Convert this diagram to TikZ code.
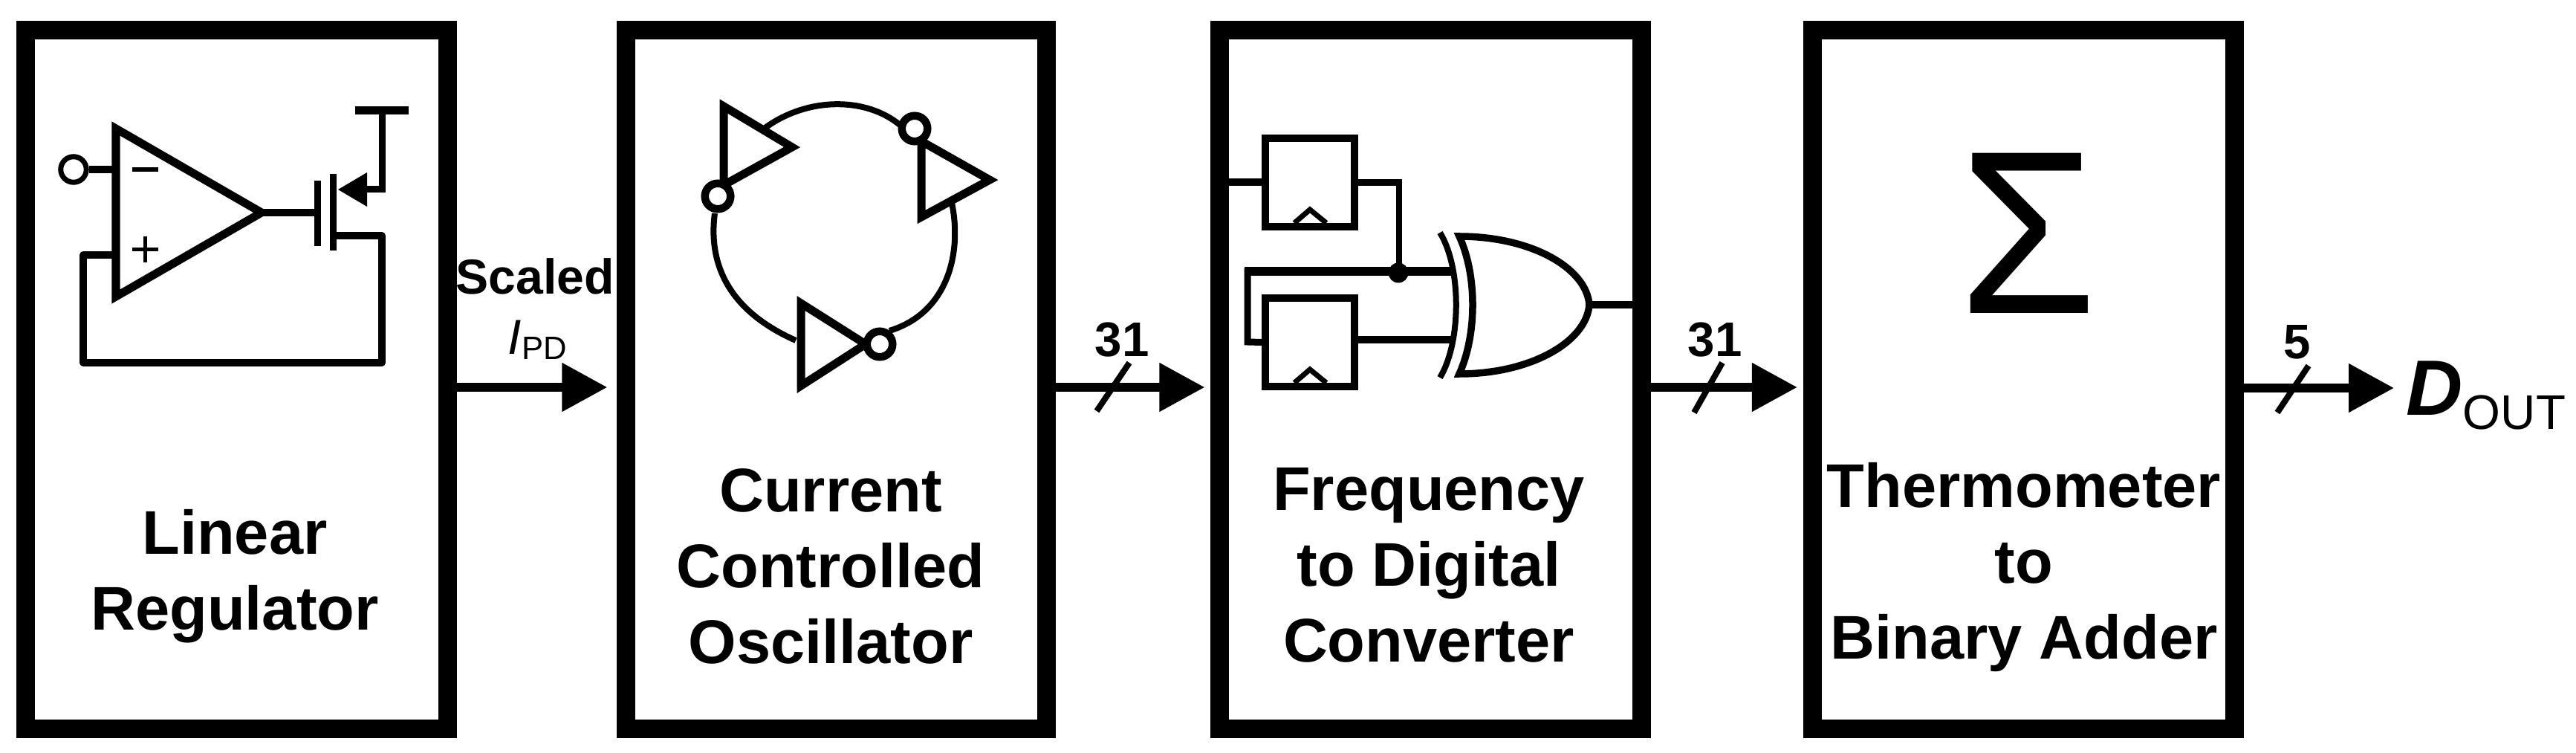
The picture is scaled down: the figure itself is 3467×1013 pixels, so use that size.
\documentclass[tikz,border=0pt]{standalone}
\usepackage{fontspec}
\setmainfont{Liberation Sans}
\usetikzlibrary{arrows.meta,calc}
\newcommand{\lblfont}{\fontsize{23.6pt}{29pt}\selectfont\bfseries}
\newcommand{\busfont}{\fontsize{18.6pt}{22pt}\selectfont}
\tikzset{
  x=0.01cm,y=-0.01cm,
  blockbox/.style={draw=black,line width=0.25cm,fill=white,minimum height=9.395cm,inner sep=0pt},
  blocklabel/.style={font=\lblfont,align=center,inner sep=0pt},
  wire/.style={line width=0.10cm,line cap=butt},
  thinwire/.style={line width=0.085cm},
  sigarrow/.style={line width=0.115cm,-{Triangle[length=0.61cm,width=0.63cm]},shorten >=0.08cm},
  slashmark/.style={line width=0.08cm},
  invbody/.style={draw,line width=0.11cm,fill=white,miter limit=12},
  bubble/.style={circle,draw,line width=0.105cm,fill=white,minimum size=0.345cm,inner sep=0pt},
  ffbox/.style={draw,line width=0.10cm,fill=white,minimum width=1.19cm,minimum height=1.19cm,inner sep=0pt},
  clk/.style={line width=0.07cm,line join=miter},
}
\begin{document}
\begin{tikzpicture}
\useasboundingbox (0,0) rectangle (3467,1013);
% blocks
\node[blockbox,minimum width=5.67cm] (b1) at (318.5,510.75) {};
\node[blockbox,minimum width=5.65cm] (b2) at (1125.5,510.75) {};
\node[blockbox,minimum width=5.67cm] (b3) at (1925.5,510.75) {};
\node[blockbox,minimum width=5.68cm] (b4) at (2723.5,510.75) {};
% labels
\node[blocklabel] (l1) at (316,775) {Linear\\Regulator};
\node[blocklabel] (l2) at (1118,762) {Current\\Controlled\\Oscillator};
\node[blocklabel] (l3) at (1923,760) {Frequency\\to Digital\\Converter};
\node[blocklabel] (l4) at (2724,763) {Thermometer\\to\\Binary Adder};
% signal arrows
\coordinate (a1s) at (b1.east |- 0,521);
\coordinate (a1e) at (b2.west |- 0,521);
\coordinate (a2s) at (b2.east |- 0,521);
\coordinate (a2e) at (b3.west |- 0,521);
\coordinate (a3s) at (b3.east |- 0,521);
\coordinate (a3e) at (b4.west |- 0,521);
\coordinate (a4s) at (b4.east |- 0,522);
\coordinate (a4e) at (3222,522);
\draw[sigarrow,shorten >=0.13cm] (a1s) -- (a1e);
\draw[sigarrow] (a2s) -- (a2e);
\draw[sigarrow] (a3s) -- (a3e);
\draw[sigarrow,shorten >=0pt] (a4s) -- (a4e);
\draw[slashmark] (1476,553) -- (1520,488);
\draw[slashmark] (2280,555) -- (2318,488);
\draw[slashmark] (3065,555) -- (3107,492);
\node[font=\busfont\bfseries,inner sep=0pt] (t1) at (1510,457) {31};
\node[font=\busfont\bfseries,inner sep=0pt] (t2) at (2308,457) {31};
\node[font=\busfont\bfseries,inner sep=0pt] (t3) at (3092,460) {5};
\node[font=\fontsize{18.8pt}{22pt}\selectfont\bfseries,inner sep=0pt] (sc) at (720,372) {Scaled};
\node[font=\fontsize{18.8pt}{22pt}\selectfont,inner sep=0pt,anchor=base west] (ipd) at (683,477) {\textit{I}{\fontsize{12.4pt}{15pt}\selectfont\raisebox{-0.14em}{PD}}};
\node[inner sep=0pt,anchor=base west] (dout) at (3238,559) {\fontsize{30pt}{34pt}\selectfont\bfseries\itshape D\raisebox{-0.18em}{\fontsize{18.6pt}{22pt}\selectfont\mdseries\upshape OUT}};
% regulator
\coordinate (oa1) at (156,173); \coordinate (oa2) at (352,286); \coordinate (oa3) at (156,399);
\draw[line width=0.11cm,miter limit=12] (oa1) -- (oa2) -- (oa3) -- cycle;
\node[bubble,line width=0.07cm] (vin) at (99,228) {};
\draw[wire] (vin) -- (156,228);
\draw[line width=0.06cm] (178,228) -- (213,228);
\draw[line width=0.05cm] (178,336) -- (213,336) (195,318) -- (195,353);
\draw[wire] (oa2) -- (427,286);
\draw[line width=0.09cm] (427,243) -- (427,331);
\draw[line width=0.09cm] (448,234) -- (448,337);
\coordinate (vdd) at (514,149);
\draw[line width=0.11cm] (478,149) -- (550,149);
\draw[line width=0.09cm,line join=miter] (vdd) -- (514,255) -- (490,255);
\fill (455,255) -- (494,232) -- (494,278) -- cycle;
\draw[thinwire,line width=0.095cm,line join=round] (156,343) -- (112,343) -- (112,488) -- (514,488) -- (514,317) -- (448,317);
% oscillator
\draw[line width=0.08cm] (1027,174) .. controls (1085,130) and (1165,130) .. (1211,168);
\draw[line width=0.08cm] (962,287) .. controls (955,340) and (967,412) .. (1071,458);
\draw[line width=0.08cm] (1281,273) .. controls (1295,340) and (1276,421) .. (1197,445);
\draw[invbody] (974,143) -- (1066,198) -- (974,249) -- cycle;
\draw[invbody] (1240,190) -- (1332,242) -- (1240,292) -- cycle;
\draw[invbody] (1078,408) -- (1165,463) -- (1078,519) -- cycle;
\node[bubble] (i1) at (966,264) {};
\node[bubble] (i2) at (1231,173) {};
\node[bubble] (i3) at (1184,463) {};
% frequency to digital
\node[ffbox] (ff1) at (1763,245.5) {};
\node[ffbox] (ff2) at (1763,460.5) {};
\draw[clk] (1742,300) -- (1763,282) -- (1785,300);
\draw[clk] (1742,515) -- (1763,497) -- (1785,515);
\draw[wire] (b3.west |- ff1.west) -- (ff1.west);
\draw[thinwire,line join=miter] (ff1.east) -- (1883,245.5) -- (1883,365);
\draw[line width=0.12cm] (1955,365) -- (1675,365);
\draw[line width=0.09cm,line join=miter] (1679,361) -- (1679,460) -- (ff2.west);
\draw[wire] (ff2.east |- 0,457) -- (1955,457);
\node[circle,fill,inner sep=0pt,minimum size=0.27cm] (dot) at (1882,367) {};
\draw[line width=0.08cm] (1938,313) .. controls (1967,360) and (1967,460) .. (1938,508);
\draw[line width=0.095cm,fill=white,miter limit=8] (1964,318) .. controls (2060,318) and (2135,360) .. (2139,410) .. controls (2135,460) and (2060,503) .. (1964,503) .. controls (1988,450) and (1988,370) .. (1964,318) -- cycle;
\draw[wire] (2139,410) -- (b3.east |- 0,410);
% adder
\node[inner sep=0pt,font=\fontsize{89pt}{94pt}\selectfont] (sig) at (2729,314) {\scalebox{0.96}[1]{Σ}};
\end{tikzpicture}
\end{document}
